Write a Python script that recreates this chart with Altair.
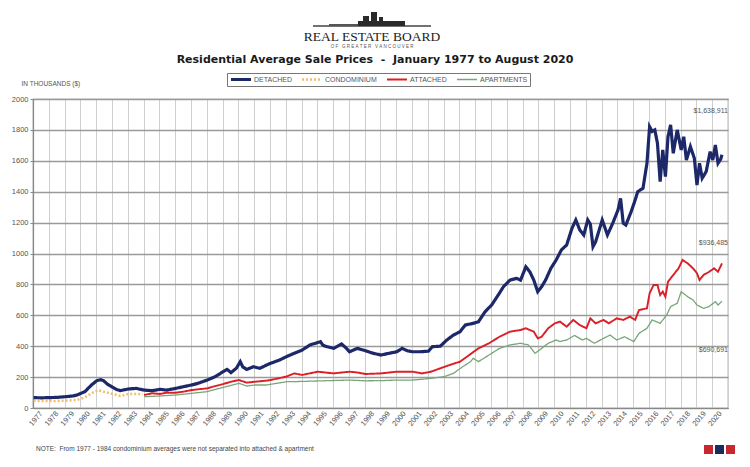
import altair as alt
import pandas as pd

# ---------------- data (values in thousands of $) ----------------
detached_dates = ["1977-01","1977-07","1978-01","1978-07","1979-01","1979-07","1979-10","1980-04","1980-09","1981-01",
    "1981-04","1981-06","1981-09","1982-01","1982-04","1982-07","1982-10","1983-01","1983-07","1983-10",
    "1984-01","1984-07","1985-01","1985-06","1985-10","1986-01","1986-07","1987-01","1987-06","1988-01",
    "1988-07","1989-01","1989-04","1989-07","1989-11","1990-02","1990-04","1990-07","1990-12","1991-05",
    "1991-10","1992-01","1992-08","1993-01","1993-07","1994-01","1994-07","1995-03","1995-05","1995-08",
    "1996-01","1996-07","1996-10","1997-01","1997-07","1998-01","1998-07","1999-01","1999-07","2000-01",
    "2000-05","2000-09","2001-01","2001-07","2002-01","2002-04","2002-10","2003-03","2003-08","2004-01",
    "2004-05","2004-11","2005-03","2005-08","2006-01","2006-06","2006-10","2007-03","2007-08","2007-11",
    "2008-03","2008-06","2008-09","2008-12","2009-03","2009-06","2009-10","2010-02","2010-06","2010-10",
    "2011-02","2011-05","2011-08","2011-11","2012-02","2012-04","2012-06","2012-08","2013-01","2013-05",
    "2013-09","2014-01","2014-03","2014-05","2014-07","2014-11","2015-02","2015-04","2015-08","2015-11",
    "2016-01","2016-03","2016-05","2016-07","2016-09","2016-11","2017-01","2017-03","2017-05","2017-07",
    "2017-10","2018-01","2018-03","2018-05","2018-08","2018-11","2019-01","2019-03","2019-05","2019-08",
    "2019-11","2020-01","2020-03","2020-05","2020-07","2020-08"]
detached_values = [67,66,67,69,73,78,84,106,149,177,
    183,178,155,134,120,112,118,123,127,121,
    116,112,121,116,122,127,138,149,160,181,
    203,235,250,229,257,300,265,250,267,257,
    278,289,311,332,354,375,408,429,405,397,
    386,414,392,364,386,371,354,343,354,364,
    386,370,364,364,368,397,400,440,472,494,
    537,548,558,623,667,731,785,828,839,828,
    914,882,828,753,785,828,904,958,1023,1055,
    1163,1217,1152,1120,1217,1190,1044,1076,1217,1120,
    1196,1282,1357,1196,1184,1271,1346,1400,1422,1584,
    1821,1790,1800,1713,1465,1670,1497,1756,1832,1649,
    1800,1670,1756,1605,1692,1616,1443,1584,1487,1530,
    1659,1605,1702,1584,1610,1639]

condo_dates = ["1977-01","1978-01","1979-01","1979-10","1980-04","1980-09","1981-02","1981-06","1982-01","1982-07",
    "1983-01","1983-12"]
condo_values = [47,45,47,52,69,95,116,106,91,78,91,91]

attached_dates = ["1984-01","1984-07","1985-01","1985-06","1986-01","1986-07","1987-01","1987-06","1988-01","1988-07",
    "1989-01","1989-07","1990-01","1990-07","1991-01","1991-10","1992-01","1993-01","1993-07","1994-01",
    "1995-01","1996-01","1997-01","1997-07","1998-01","1999-01","2000-01","2001-01","2001-08","2002-03",
    "2002-10","2003-05","2004-01","2004-08","2005-03","2005-11","2006-07","2007-03","2007-11","2008-03",
    "2008-09","2008-12","2009-03","2009-08","2010-01","2010-05","2010-10","2011-03","2011-08","2012-01",
    "2012-04","2012-08","2013-02","2013-06","2013-12","2014-05","2014-10","2015-02","2015-05","2015-11",
    "2016-01","2016-04","2016-07","2016-09","2016-11","2017-01","2017-03","2017-07","2017-11","2018-02",
    "2018-06","2018-10","2019-01","2019-03","2019-06","2019-10","2020-02","2020-05","2020-08"]
attached_values = [84,95,91,99,99,106,116,121,127,142,
    155,170,181,164,170,177,181,203,224,214,
    235,224,235,230,220,224,235,235,224,235,
    257,278,300,343,386,419,461,494,505,516,
    494,451,461,516,548,559,526,570,537,516,
    580,548,570,548,580,570,591,570,634,645,
    742,796,796,731,753,720,817,861,904,958,
    936,904,872,828,861,880,904,882,936]

apartment_dates = ["1984-01","1985-01","1986-01","1987-01","1988-01","1989-01","1990-01","1990-07","1991-01","1991-10",
    "1993-01","1994-01","1995-01","1996-01","1997-01","1998-01","1999-01","2000-01","2001-01","2001-08",
    "2002-03","2003-01","2003-08","2004-03","2004-09","2004-11","2005-03","2005-11","2006-07","2007-03",
    "2007-11","2008-05","2008-10","2009-03","2009-08","2010-02","2010-05","2010-10","2011-04","2011-10",
    "2012-01","2012-07","2013-02","2013-07","2013-12","2014-06","2015-01","2015-05","2015-11","2016-03",
    "2016-09","2017-02","2017-05","2017-10","2018-01","2018-06","2018-10","2019-01","2019-06","2019-10",
    "2020-03","2020-05","2020-08"]
apartment_values = [73,78,84,95,106,134,160,142,149,149,
    170,172,175,178,181,176,177,181,181,186,
    192,203,224,267,300,322,300,343,386,408,
    419,408,354,386,419,440,430,440,470,440,
    451,419,451,472,440,461,430,483,516,570,
    548,602,656,678,753,720,699,667,645,656,
    688,667,691]

series_names = ["DETACHED", "CONDOMINIUM", "ATTACHED", "APARTMENTS"]
final_prices = [1638911, 936485, 690691]   # $ figures printed at the right edge

NB = "\u00a0"
title_text = "Residential Average Sale Prices" + NB * 2 + "-" + NB * 2 + "January 1977 to August 2020"
note_text = "NOTE:" + NB * 2 + "From 1977 - 1984 condominium averages were not separated into attached & apartment"
logo_text = "REAL ESTATE BOARD"
logo_sub = (NB * 3).join(NB.join(list(w)) for w in ["OF", "GREATER", "VANCOUVER"])
y_ticks = [0, 200, 400, 600, 800, 1000, 1200, 1400, 1600, 1800, 2000]

# ---------------- build table ----------------
rows = []
for name, ds, vs in [("APARTMENTS", apartment_dates, apartment_values),
                     ("ATTACHED", attached_dates, attached_values),
                     ("CONDOMINIUM", condo_dates, condo_values),
                     ("DETACHED", detached_dates, detached_values)]:
    for d, v in zip(ds, vs):
        rows.append({"series": name, "date": d + "-15", "value": v})
df = pd.DataFrame(rows)

colors = ["#1c2868", "#f3bd6e", "#dc1f26", "#78a67a"]
widths = [3.2, 1.3, 2.2, 1.0]
dashes = [[1, 0], [2, 2], [1, 0], [1, 0]]

FONT = "Liberation Sans"

x_enc = alt.X("date:T",
    scale=alt.Scale(domain=[alt.DateTime(year=1977, month=1, date=1),
                            alt.DateTime(year=2021, month=1, date=1)]),
    axis=alt.Axis(title=None, format="%Y", tickCount={"interval": "year", "step": 1},
                  labelExpr="year(datum.value) > 2020 ? '' : datum.label",
                  labelAngle=-50, labelOffset=8, labelOverlap=False, labelFlush=False,
                  labelFontSize=7.5, labelColor="#555", labelFont=FONT, labelPadding=4,
                  ticks=False, grid=True, gridColor="#cfcfcf", gridWidth=1,
                  domainColor="#888", domainWidth=1.2))
y_enc = alt.Y("value:Q",
    scale=alt.Scale(domain=[0, 2000], nice=False),
    axis=alt.Axis(values=y_ticks, format="d", title="IN THOUSANDS ($)", titleAngle=0, titleX=-12, titleY=-16,
                  titleAlign="left", titleBaseline="middle", titleFontSize=6.5,
                  titleFontWeight="normal", titleColor="#555", titleFont=FONT,
                  labelFontSize=7.5, labelColor="#555", labelFont=FONT, labelPadding=2,
                  tickSize=3, tickColor="#888", grid=True, gridColor="#9a9a9a", gridWidth=1.3,
                  domainColor="#888", domainWidth=1.2))

lines = alt.Chart(df).mark_line(interpolate="linear").encode(
    x=x_enc, y=y_enc,
    color=alt.Color("series:N", scale=alt.Scale(domain=series_names, range=colors), title=None),
    strokeWidth=alt.StrokeWidth("series:N", scale=alt.Scale(domain=series_names, range=widths), title=None),
    strokeDash=alt.StrokeDash("series:N", scale=alt.Scale(domain=series_names, range=dashes), title=None),
    order=alt.Order("date:T"),
)

def text_layer(txt, x, y, size, color="#444", align="center", weight="normal", font=FONT, baseline="middle"):
    return alt.Chart(pd.DataFrame({"t": [txt]})).mark_text(
        align=align, baseline=baseline, fontSize=size, color=color, fontWeight=weight, font=font
    ).encode(text="t:N", x=alt.value(x), y=alt.value(y))

def box(x1, x2, y1, y2, col):
    return alt.Chart(pd.DataFrame({"a": [0]})).mark_rect(color=col).encode(
        x=alt.value(x1), x2=alt.value(x2), y=alt.value(y1), y2=alt.value(y2))

title = text_layer(title_text, 342, -39, 11, color="#1a1a1a", weight="bold", font="DejaVu Sans")
logo1 = text_layer(logo_text, 339, -62, 13.5, color="#222", font="Liberation Serif")
logo2 = text_layer(logo_sub, 339, -52, 4.5, color="#555")
ground = alt.Chart(pd.DataFrame({"a": [0]})).mark_rule(color="#444", strokeWidth=1.5).encode(
    x=alt.value(280), x2=alt.value(398), y=alt.value(-73))
skyline = [box(325, 372, -78, -73, "#2a2a2a"), box(330, 336, -83, -73, "#2a2a2a"),
           box(338, 344, -87, -73, "#2a2a2a"), box(346, 350, -82, -73, "#2a2a2a"),
           box(296, 325, -75, -73, "#555")]

ann1 = text_layer("$" + f"{final_prices[0]:,}", 695, 12, 7, color="#555", align="right")
ann2 = text_layer("$" + f"{final_prices[1]:,}", 695, 144, 7, color="#555", align="right")
ann3 = text_layer("$" + f"{final_prices[2]:,}", 695, 251, 7, color="#555", align="right")
note = text_layer(note_text, 3, 350, 6.5, color="#444", align="left")

icons = [box(671, 680, 346, 355, "#c8272d"), box(682, 691, 346, 355, "#1d2a5b"), box(693, 702, 346, 355, "#c8272d")]

chart = alt.layer(lines, title, logo1, logo2, ground, *skyline, ann1, ann2, ann3, note, *icons).properties(
    width=695, height=309,
    autosize=alt.AutoSizeParams(type="none"),
    padding={"left": 25, "top": 91, "right": 14, "bottom": 51},
    background="white",
).configure_view(stroke="#888", strokeWidth=1.2).configure_legend(
    orient="none", legendX=194, legendY=-26, direction="horizontal", columns=4,
    symbolType="stroke", symbolSize=400, clipHeight=9, labelFontSize=7, labelColor="#555", labelFont=FONT,
    columnPadding=8, labelOffset=1, padding=2, strokeColor="#777", fillColor="white",
    symbolStrokeWidth=2,
)

chart.save("out.html", embed_options={"renderer": "svg", "actions": False})
